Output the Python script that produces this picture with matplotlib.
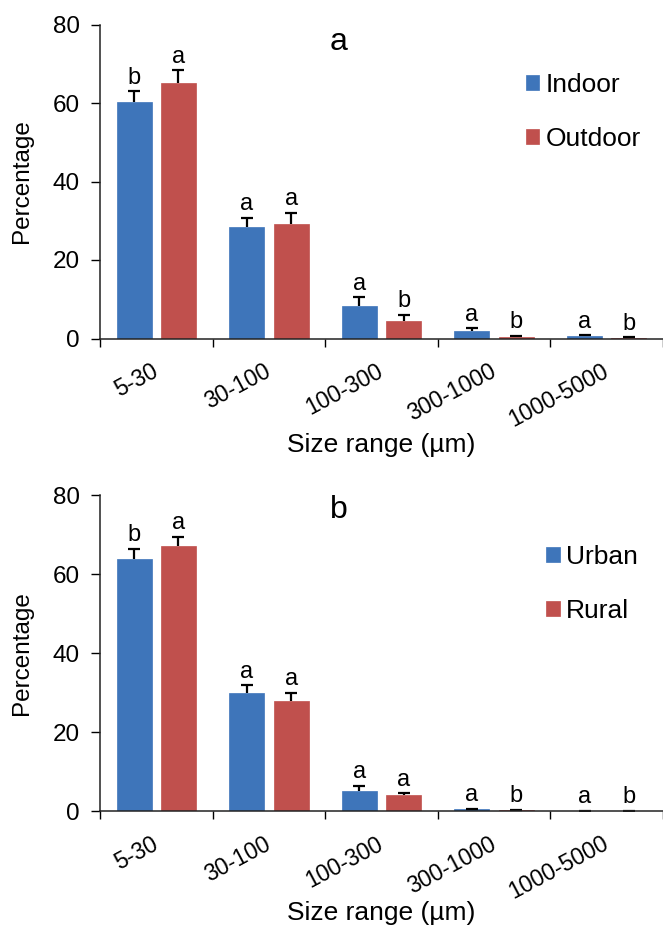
import numpy as np
import matplotlib
matplotlib.use("Agg")
import matplotlib.pyplot as plt
from matplotlib.transforms import ScaledTranslation

plt.rcParams['font.family'] = ['Liberation Sans', 'DejaVu Sans']

categories = ["5-30", "30-100", "100-300", "300-1000", "1000-5000"]

# Panel a
indoor = [60.3, 28.3, 8.3, 2.0, 0.6]
indoor_err = [2.7, 2.5, 2.2, 0.6, 0.2]
outdoor = [65.2, 29.2, 4.5, 0.5, 0.2]
outdoor_err = [3.2, 2.8, 1.6, 0.2, 0.1]
indoor_sig = ["b", "a", "a", "a", "a"]
outdoor_sig = ["a", "a", "b", "b", "b"]

# Panel b
urban = [63.9, 29.9, 5.2, 0.5, 0.1]
urban_err = [2.6, 2.0, 1.3, 0.15, 0.05]
rural = [67.2, 27.9, 4.2, 0.3, 0.1]
rural_err = [2.3, 2.1, 0.4, 0.15, 0.1]
urban_sig = ["b", "a", "a", "a", "a"]
rural_sig = ["a", "a", "a", "b", "b"]

BLUE = "#3E75BA"
RED = "#C0504D"

fig = plt.figure(figsize=(6.63, 9.26), dpi=100)

W = 563 / 663
ax_a = fig.add_axes([100 / 663, 1 - 338.5 / 926, W, 314 / 926])
ax_b = fig.add_axes([100 / 663, 1 - 811.3 / 926, W, 316 / 926])


def draw(ax, s1, e1, sig1, s2, e2, sig2, names, panel, leg_x, leg_y, panel_y, xlab_y):
    x = np.arange(len(categories))
    off = 0.197
    bw = 0.31
    for xs, vals, errs, sigs, col, name in [
        (x - off, s1, e1, sig1, BLUE, names[0]),
        (x + off, s2, e2, sig2, RED, names[1]),
    ]:
        ax.bar(xs, vals, width=bw, color=col, label=name, zorder=2,
               edgecolor=col, linewidth=0.5)
        eb = ax.errorbar(xs, vals, yerr=[np.zeros(len(vals)), errs], fmt='none',
                         ecolor='black', elinewidth=1.6, capsize=4,
                         capthick=1.6, zorder=3)
        eb[1][0].set_visible(False)
        for xi, v, e, s in zip(xs, vals, errs, sigs):
            ax.text(xi, v + e + 1.9, s, ha='center', va='baseline', fontsize=17)

    ax.set_xlim(-0.5, -0.5 + 563 / 113)
    ax.set_ylim(0, 80)
    ax.set_yticks([0, 20, 40, 60, 80])
    ax.tick_params(axis='y', labelsize=17.5, length=6.5, width=1.0, pad=8,
                   direction='out')
    ax.set_xticks(np.arange(-0.5, 5.0, 1.0))
    ax.set_xticklabels([])
    ax.tick_params(axis='x', which='major', length=6, width=1.0, direction='out')
    ax.set_xticks(x, minor=True)
    ax.set_xticklabels(categories, minor=True, rotation=28, ha='right',
                       rotation_mode='anchor', fontsize=16.5)
    ax.tick_params(axis='x', which='minor', length=0, pad=15)
    shift = ScaledTranslation(-5 / 100, 0, fig.dpi_scale_trans)
    for lab in ax.get_xticklabels(minor=True):
        lab.set_transform(lab.get_transform() + shift)
    for sp in ['top', 'right']:
        ax.spines[sp].set_visible(False)
    for sp in ['left', 'bottom']:
        ax.spines[sp].set_linewidth(1.1)
        ax.spines[sp].set_color('#222222')
    ax.spines['bottom'].set_zorder(4)

    ax.set_ylabel("Percentage", fontsize=17.5)
    ax.yaxis.set_label_coords(-0.119, 0.5)
    ax.set_xlabel("Size range (µm)", fontsize=19)
    ax.xaxis.set_label_coords(0.5, xlab_y)

    ax.text(0.4245, panel_y, panel, transform=ax.transAxes, ha='center',
            va='baseline', fontsize=23)

    ax.legend(loc='upper left', bbox_to_anchor=(leg_x, leg_y), frameon=False,
              fontsize=19, handlelength=0.5, handleheight=0.5,
              handletextpad=0.25, labelspacing=1.14, borderpad=0,
              borderaxespad=0)


draw(ax_a, indoor, indoor_err, indoor_sig, outdoor, outdoor_err, outdoor_sig,
     ["Indoor", "Outdoor"], "a", 0.757, 0.847, 0.919, -0.302)
draw(ax_b, urban, urban_err, urban_sig, rural, rural_err, rural_sig,
     ["Urban", "Rural"], "b", 0.793, 0.842, 0.927, -0.284)

fig.savefig("out.png", dpi=100)
